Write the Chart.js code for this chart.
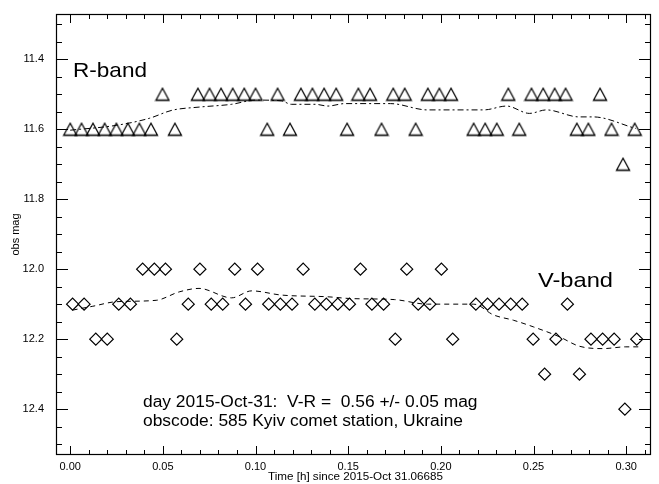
<!DOCTYPE html>
<html><head><meta charset="utf-8">
<script src="https://cdn.jsdelivr.net/npm/chart.js@4.4.1/dist/chart.umd.min.js"></script>
<style>html,body{margin:0;padding:0;background:#fff;}canvas{display:block;}</style>
</head><body>
<canvas id="c" width="659" height="484" style="width:659px;height:484px"></canvas>
<script>
// ---- data ----
const rTime = [0.000,0.0061,0.0123,0.0186,0.0249,0.0311,0.0373,0.0436,0.0498,0.0565,0.0689,0.0752,0.0814,0.0877,0.0939,0.1000,0.1063,0.1119,0.1186,0.1245,0.1307,0.1370,0.1435,0.1494,0.1555,0.1618,0.1680,0.1743,0.1805,0.1864,0.1930,0.1992,0.2055,0.2177,0.2239,0.2302,0.2364,0.2423,0.2489,0.2552,0.2614,0.2673,0.2734,0.2796,0.2859,0.2921,0.2983,0.3046];
const rMag  = [11.6,11.6,11.6,11.6,11.6,11.6,11.6,11.6,11.5,11.6,11.5,11.5,11.5,11.5,11.5,11.5,11.6,11.5,11.6,11.5,11.5,11.5,11.5,11.6,11.5,11.5,11.6,11.5,11.5,11.6,11.5,11.5,11.5,11.6,11.6,11.6,11.5,11.6,11.5,11.5,11.5,11.5,11.6,11.6,11.5,11.6,11.7,11.6];
const vTime = [0.0013,0.0075,0.0138,0.0200,0.0262,0.0325,0.0391,0.0454,0.0514,0.0575,0.0637,0.0700,0.0761,0.0823,0.0888,0.0946,0.1011,0.1071,0.1134,0.1197,0.1257,0.1320,0.1382,0.1444,0.1507,0.1566,0.1628,0.1691,0.1754,0.1816,0.1878,0.1941,0.2003,0.2064,0.2189,0.2252,0.2314,0.2377,0.2439,0.2498,0.2560,0.2621,0.2683,0.2748,0.2810,0.2873,0.2935,0.2993,0.3057];
const vMag  = [12.1,12.1,12.2,12.2,12.1,12.1,12.0,12.0,12.0,12.2,12.1,12.0,12.1,12.1,12.0,12.1,12.0,12.1,12.1,12.1,12.0,12.1,12.1,12.1,12.1,12.0,12.1,12.1,12.2,12.0,12.1,12.1,12.0,12.2,12.1,12.1,12.1,12.1,12.1,12.2,12.3,12.2,12.1,12.3,12.2,12.2,12.2,12.4,12.2];
const rFitTime = [0.000,0.0250,0.0427,0.0550,0.0695,0.0871,0.1000,0.1139,0.1193,0.1321,0.1391,0.1482,0.1728,0.1927,0.2232,0.2355,0.2478,0.2569,0.2746,0.2821,0.3051];
const rFitMag  = [11.603,11.589,11.569,11.546,11.537,11.529,11.517,11.519,11.529,11.529,11.534,11.527,11.527,11.545,11.545,11.534,11.555,11.545,11.565,11.565,11.598];
const vFitTime = [0.0013,0.0122,0.0250,0.0464,0.0588,0.0695,0.0871,0.0979,0.1139,0.1391,0.1514,0.1750,0.1927,0.2178,0.2285,0.2392,0.2500,0.2639,0.2746,0.2875,0.2998,0.3067];
const vFitMag  = [12.117,12.106,12.093,12.089,12.065,12.055,12.082,12.062,12.074,12.079,12.084,12.087,12.100,12.100,12.131,12.146,12.165,12.193,12.220,12.227,12.222,12.222];
const xTicks = [0.00,0.05,0.10,0.15,0.20,0.25,0.30];
const yTicks = [11.4,11.6,11.8,12.0,12.2,12.4];
const xMinorStep = 0.01, yMinorStep = 0.05;
const xRange = [-0.00766, 0.3134];
const yRange = [11.271, 12.531];

const pts = (xs, ys) => xs.map((x, i) => ({x, y: ys[i]}));
const FONT = '"Liberation Sans", Arial, Helvetica, sans-serif';

// open triangle marker (bbox-centred, like the reference symbol)
const triImg = (function () {
  const c = document.createElement('canvas');
  c.width = 16; c.height = 15;
  const g = c.getContext('2d');
  g.strokeStyle = '#000'; g.lineWidth = 1.3; g.lineJoin = 'miter';
  g.beginPath();
  g.moveTo(1.5, 13.5); g.lineTo(14.5, 13.5); g.lineTo(8, 1.5); g.closePath();
  g.stroke();
  return c;
})();

function stretchText(ctx, txt, x, y, size, targetW) {
  ctx.save();
  ctx.font = size + 'px ' + FONT;
  const w = ctx.measureText(txt).width;
  ctx.translate(x, y);
  ctx.scale(targetW / w, 1);
  ctx.textAlign = 'left';
  ctx.textBaseline = 'alphabetic';
  ctx.fillStyle = '#000';
  ctx.fillText(txt, 0, 0);
  ctx.restore();
}

const framePlugin = {
  id: 'frame',
  beforeDraw(chart) {
    const ctx = chart.ctx;
    ctx.save(); ctx.fillStyle = '#fff'; ctx.fillRect(0, 0, chart.width, chart.height); ctx.restore();
  },
  afterDraw(chart) {
    const ctx = chart.ctx, a = chart.chartArea, xs = chart.scales.x, ys = chart.scales.y;
    ctx.save();
    ctx.strokeStyle = '#000';
    ctx.lineWidth = 1.2;
    ctx.strokeRect(a.left + 0.5, a.top + 0.5, a.right - a.left - 1, a.bottom - a.top - 1);
    ctx.lineWidth = 1;
    ctx.beginPath();
    const nx = Math.round((xRange[1] - 0) / xMinorStep);
    for (let i = 0; i <= nx; i++) {
      const v = i * xMinorStep;
      if (v > xRange[1]) break;
      const major = i % 5 === 0;
      const len = major ? 9 : 5;
      const px = Math.round(xs.getPixelForValue(v)) + 0.5;
      ctx.moveTo(px, a.bottom); ctx.lineTo(px, a.bottom - len);
      ctx.moveTo(px, a.top); ctx.lineTo(px, a.top + len);
    }
    const y0 = 11.3;
    const ny = Math.round((yRange[1] - y0) / yMinorStep);
    for (let i = 0; i <= ny; i++) {
      const v = y0 + i * yMinorStep;
      if (v < yRange[0] || v > yRange[1]) continue;
      const major = yTicks.some(t => Math.abs(t - v) < 1e-6);
      const len = major ? 12 : 6;
      const py = Math.round(ys.getPixelForValue(v)) + 0.5;
      ctx.moveTo(a.left, py); ctx.lineTo(a.left + len, py);
      ctx.moveTo(a.right, py); ctx.lineTo(a.right - len, py);
    }
    ctx.stroke();
    ctx.fillStyle = '#000';
    ctx.textAlign = 'center';
    ctx.textBaseline = 'middle';
    stretchText(ctx, 'Time [h] since 2015-Oct 31.06685', 268, 480, 11.5, 175);
    ctx.font = '11px ' + FONT;
    ctx.textAlign = 'center';
    ctx.textBaseline = 'middle';
    ctx.save();
    ctx.translate(16, (a.top + a.bottom) / 2);
    ctx.rotate(-Math.PI / 2);
    ctx.fillText('obs mag', 0, 0);
    ctx.restore();
    stretchText(ctx, 'R-band', 73, 77, 21, 74);
    stretchText(ctx, 'V-band', 538, 287, 21, 75);
    ctx.font = '16px ' + FONT;
    const l2 = 'obscode: 585 Kyiv comet station, Ukraine';
    const f = 320 / ctx.measureText(l2).width;
    const l1 = 'day 2015-Oct-31:  V-R =  0.56 +/- 0.05 mag';
    const w1 = ctx.measureText(l1).width * f;
    stretchText(ctx, l1, 143, 407, 16, w1);
    stretchText(ctx, l2, 143, 426, 16, 320);
    ctx.restore();
  }
};

new Chart(document.getElementById('c'), {
  type: 'scatter',
  data: {
    datasets: [
      { label: 'R-band', data: pts(rTime, rMag), pointStyle: triImg, pointRadius: 7,
        pointBorderColor: '#000', pointBackgroundColor: 'rgba(0,0,0,0)', showLine: false },
      { label: 'V-band', data: pts(vTime, vMag), pointStyle: 'rectRot', pointRadius: 6, pointBorderWidth: 1.2,
        pointBorderColor: '#000', pointBackgroundColor: 'rgba(0,0,0,0)', showLine: false },
      { label: 'R fit', data: pts(rFitTime, rFitMag), showLine: true, pointRadius: 0, borderColor: '#000',
        borderWidth: 1, borderDash: [6,3,2,3], cubicInterpolationMode: 'monotone', fill: false },
      { label: 'V fit', data: pts(vFitTime, vFitMag), showLine: true, pointRadius: 0, borderColor: '#000',
        borderWidth: 1, borderDash: [5,4], cubicInterpolationMode: 'monotone', fill: false }
    ]
  },
  options: {
    responsive: false,
    animation: false,
    devicePixelRatio: 1,
    layout: { padding: { top: 14, right: 4, left: 0, bottom: 0 } },
    plugins: { legend: { display: false }, tooltip: { enabled: false } },
    scales: {
      x: {
        type: 'linear', min: xRange[0], max: xRange[1],
        grid: { display: false }, border: { display: false },
        afterBuildTicks: s => { s.ticks = xTicks.map(v => ({ value: v })); },
        afterFit: s => { s.height = 29; },
        ticks: { autoSkip: false, maxRotation: 0, padding: -3, color: '#000',
          font: { family: FONT, size: 11 }, callback: v => Number(v).toFixed(2) }
      },
      y: {
        type: 'linear', reverse: true, min: yRange[0], max: yRange[1],
        grid: { display: false }, border: { display: false },
        afterBuildTicks: s => { s.ticks = yTicks.map(v => ({ value: v })); },
        afterFit: s => { s.width = 56; },
        ticks: { autoSkip: false, padding: 4, color: '#000',
          font: { family: FONT, size: 11 }, callback: v => Number(v).toFixed(1) }
      }
    }
  },
  plugins: [framePlugin]
});
</script>
</body></html>
